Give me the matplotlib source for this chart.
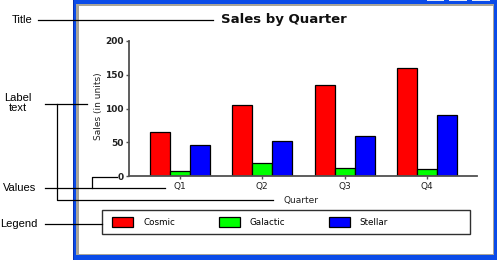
import matplotlib
matplotlib.use("Agg")
import matplotlib.pyplot as plt
from matplotlib.patches import Rectangle, Patch
from matplotlib.lines import Line2D
import numpy as np

quarters = ["Q1", "Q2", "Q3", "Q4"]
cosmic = [65, 105, 135, 160]
galactic = [8, 20, 12, 11]
stellar = [46, 52, 60, 90]
series_names = ["Cosmic", "Galactic", "Stellar"]
series_colors = ["#FF0000", "#00FF00", "#0000FF"]
yticks = [0, 50, 100, 150, 200]

W, H = 497, 260
fig = plt.figure(figsize=(W / 100, H / 100), dpi=100)
fig.patch.set_facecolor("white")


def fx(x):
    return x / W


def fy(y):
    return 1 - y / H


def rect(x0, y0, x1, y1, color, z=0):
    fig.patches.append(Rectangle((fx(x0), fy(y1)), fx(x1) - fx(x0), fy(y0) - fy(y1),
                                 transform=fig.transFigure, facecolor=color,
                                 edgecolor="none", zorder=z))


def line(xs, ys, z=5):
    fig.lines.append(Line2D([fx(x) for x in xs], [fy(y) for y in ys],
                            transform=fig.transFigure, color="black", lw=0.9, zorder=z))


# window frame
rect(73, 0, 497, 260, "#0A4BE8", 0)
rect(73, 0, 74, 260, "#0830B0", 0.5)
rect(76, 4, 494, 255, "#A8A498", 1)
rect(79, 6, 493, 254, "white", 2)
for bx0, bx1 in [(427, 444), (449, 467), (472, 490)]:
    rect(bx0, 0, bx1, 1, "#E8ECF8", 2)

# chart axes
ax = fig.add_axes([fx(129), fy(176), fx(477) - fx(129), fy(41) - fy(176)])
ax.set_zorder(3)
ax.patch.set_alpha(0)
x = np.arange(len(quarters))
bw = 0.243
for i, (vals, c) in enumerate(zip([cosmic, galactic, stellar], series_colors)):
    ax.bar(x + (i - 1) * bw, vals, width=bw, color=c, edgecolor="black", linewidth=0.9)
ax.set_xlim(-0.62, 3.61)
ax.set_ylim(0, 200)
ax.set_yticks(yticks)
ax.set_xticks(x)
ax.set_xticklabels(quarters)
for s in ["top", "right"]:
    ax.spines[s].set_visible(False)
for s in ["left", "bottom"]:
    ax.spines[s].set_color("#505050")
    ax.spines[s].set_linewidth(1.3)
ax.tick_params(axis="both", length=2.5, width=1, color="#505050", labelsize=6.5,
               labelcolor="#202020", pad=1.5)
for lab in ax.get_yticklabels():
    lab.set_fontweight("bold")

fig.text(fx(284), fy(20), "Sales by Quarter", ha="center", va="center",
         fontsize=9.5, fontweight="bold", color="#101010", zorder=4)
fig.text(fx(98), fy(106), "Sales (in units)", ha="center", va="center", rotation=90,
         fontsize=6.5, color="#202020", zorder=4)
fig.text(fx(301), fy(200), "Quarter", ha="center", va="center",
         fontsize=6.5, color="#202020", zorder=4)

# legend box
fig.patches.append(Rectangle((fx(102), fy(234)), fx(470) - fx(102), fy(210) - fy(234),
                             transform=fig.transFigure, facecolor="white",
                             edgecolor="#303030", lw=1, zorder=3))
handles = [Patch(facecolor=c, edgecolor="black", linewidth=0.9) for c in series_colors]
leg = fig.legend(handles, series_names, ncol=3, frameon=False, loc="center left",
                 bbox_to_anchor=(fx(108), fy(222)), fontsize=6.3, handlelength=2.4,
                 handleheight=1.4, handletextpad=1.1, columnspacing=5.0, borderpad=0)
leg.set_zorder(4)

# annotations
afont = dict(family="Liberation Sans", fontsize=8, color="black", va="center", zorder=6)
fig.text(fx(22), fy(20), "Title", ha="center", **afont)
fig.text(fx(18), fy(103), "Label\ntext", ha="center", linespacing=1.1, **afont)
fig.text(fx(20), fy(188), "Values", ha="center", **afont)
fig.text(fx(19), fy(224), "Legend", ha="center", **afont)
line([38, 213], [20, 20])
line([45, 87], [104, 104])
line([57, 57, 273], [104, 200, 200])
line([45, 165], [188, 188])
line([92, 92, 117], [188, 176.7, 176.7])
line([45, 102], [224, 224])

fig.savefig("out.png", dpi=100)
